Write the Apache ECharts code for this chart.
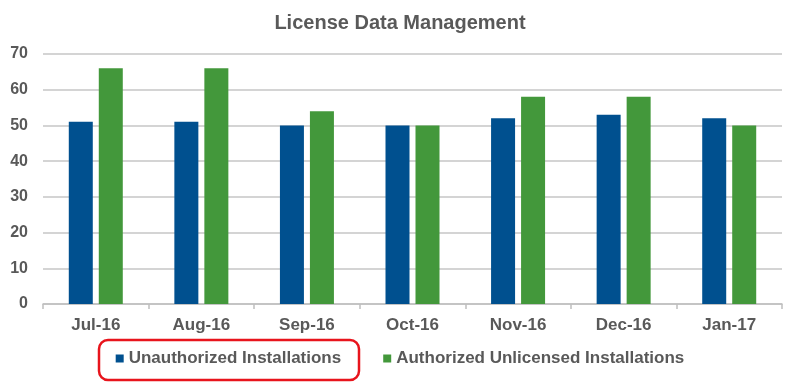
<!DOCTYPE html>
<html><head><meta charset="utf-8">
<script src="https://cdn.jsdelivr.net/npm/echarts@6/dist/echarts.min.js"></script>
<style>html,body{margin:0;padding:0;background:#fff}#c{width:800px;height:382px}</style>
</head><body><div id="c"></div>
<script>
const categories = ["Jul-16","Aug-16","Sep-16","Oct-16","Nov-16","Dec-16","Jan-17"];
const unauthorized = [51,51,50,50,52,53,52];
const authorizedUnlicensed = [66,66,54,50,58,58,50];
const yTicks = [0,10,20,30,40,50,60,70];
const seriesNames = ["Unauthorized Installations","Authorized Unlicensed Installations"];

const chart = echarts.init(document.getElementById('c'), null, {renderer:'canvas'});
const txt = '#595959';
const font = '"Liberation Sans", Arial, sans-serif';
chart.setOption({
  animation:false,
  textStyle:{fontFamily:font},
  title:{text:'License Data Management',left:'center',top:8,
    textStyle:{fontSize:20,fontWeight:'bold',color:txt,fontFamily:font}},
  legend:{top:345,left:'center',itemWidth:8,itemHeight:8,itemGap:42,icon:'rect',
    textStyle:{fontSize:17,fontWeight:'bold',color:txt,fontFamily:font},
    data:seriesNames},
  grid:{left:43,right:18,top:54,bottom:78},
  xAxis:{type:'category',data:categories,
    axisLine:{lineStyle:{color:'#bfbfbf',width:1.5}},
    axisTick:{show:true,length:5,lineStyle:{color:'#bfbfbf',width:1.5}},
    axisLabel:{fontSize:17,fontWeight:'bold',color:txt,margin:13}},
  yAxis:{type:'value',min:yTicks[0],max:yTicks[yTicks.length-1],interval:10,
    axisLine:{show:false},axisTick:{show:false},
    splitLine:{lineStyle:{color:'#c6c6c6',width:1.5}},
    axisLabel:{fontSize:16,fontWeight:'bold',color:txt,margin:15}},
  series:[
    {name:seriesNames[0],type:'bar',data:unauthorized,barWidth:24,barGap:'25%',
      itemStyle:{color:'#00508f'}},
    {name:seriesNames[1],type:'bar',data:authorizedUnlicensed,barWidth:24,
      itemStyle:{color:'#43983b'}}
  ],
  graphic:[{type:'rect',shape:{x:99,y:340,width:260,height:40,r:9},
    style:{fill:'none',stroke:'#e8141c',lineWidth:2.5},z:100}]
});
</script></body></html>
